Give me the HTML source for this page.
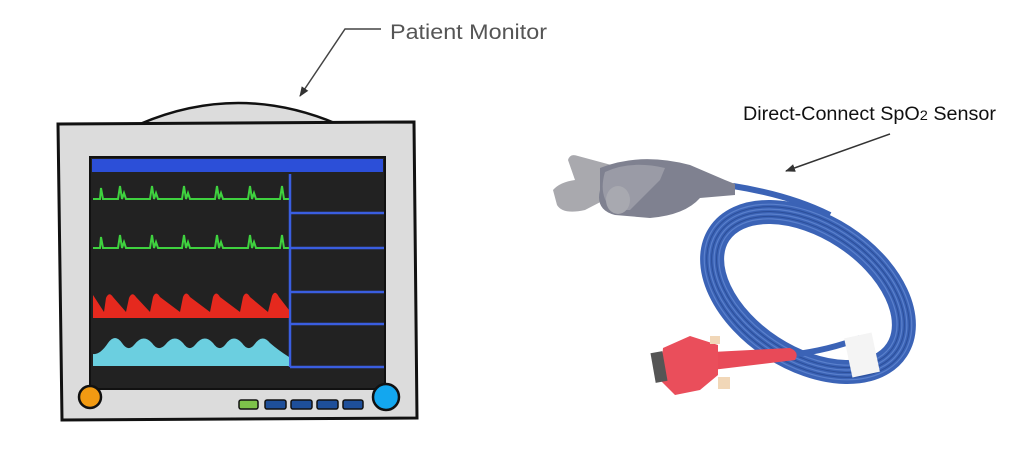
<!DOCTYPE html>
<html><head><meta charset="utf-8"><style>
html,body{margin:0;padding:0;background:#fff;width:1024px;height:474px;overflow:hidden}
text{font-family:"Liberation Sans",Arial,sans-serif}
</style></head><body>
<svg width="1024" height="474" viewBox="0 0 1024 474" xmlns="http://www.w3.org/2000/svg">
<defs>
<marker id="ah" markerWidth="10" markerHeight="8" refX="9" refY="4" orient="auto" markerUnits="userSpaceOnUse"><path d="M0,0 L10,4 L0,8 z" fill="#333"/></marker>
</defs>
<text x="390" y="39" font-size="21" fill="#555" textLength="157" lengthAdjust="spacingAndGlyphs">Patient Monitor</text>
<polyline points="381,29 345,29 300,96" fill="none" stroke="#444" stroke-width="1.5" marker-end="url(#ah)"/>
<path d="M140,124 Q238,82 337,124 Z" fill="#dcdcdc" stroke="#111" stroke-width="2.5"/>
<path d="M58,124 L414,122 L417,418 L62,420 Z" fill="#dcdcdc" stroke="#111" stroke-width="3"/>
<rect x="90" y="157" width="295" height="232" fill="#222" stroke="#111" stroke-width="2"/>
<rect x="92" y="159" width="291" height="13" fill="#2c4fd8"/>
<g stroke="#3a5ee0" stroke-width="2.5" fill="none">
<line x1="290" y1="174" x2="290" y2="367"/>
<line x1="290" y1="213" x2="384" y2="213"/>
<line x1="290" y1="248" x2="384" y2="248"/>
<line x1="290" y1="292" x2="384" y2="292"/>
<line x1="290" y1="324" x2="384" y2="324"/>
<line x1="290" y1="367" x2="384" y2="367"/>
</g>
<g stroke="#3fd23f" stroke-width="2" fill="none">
<path d="M93,199 L100,199 L101,188 L103,199 L118,199 L120,186 L122,199 L124,193 L126,199 L150,199 L152,186 L154,199 L156,193 L158,199 L182,199 L184,186 L186,199 L188,193 L190,199 L215,199 L217,186 L219,199 L221,193 L223,199 L248,199 L250,186 L252,199 L254,193 L256,199 L280,199 L282,186 L284,199 L289,199"/>
<path d="M93,248 L100,248 L101,237 L103,248 L118,248 L120,235 L122,248 L124,242 L126,248 L150,248 L152,235 L154,248 L156,242 L158,248 L182,248 L184,235 L186,248 L188,242 L190,248 L215,248 L217,235 L219,248 L221,242 L223,248 L248,248 L250,235 L252,248 L254,242 L256,248 L280,248 L282,235 L284,248 L289,248"/>
</g>
<path d="M93,295 L104,312 L106,298 Q109,291 113,297 L126,312 L129,298 Q132,291 136,297 L150,312 L153,297 Q156,290 160,297 L180,312 L183,297 Q186,290 190,297 L210,312 L213,297 Q216,290 220,297 L240,312 L243,297 Q246,290 250,297 L268,312 L272,296 Q275,289 279,297 L289,310 L289,318 L93,318 Z" fill="#e5291e"/>
<path d="M93,354 Q100,355 108,343 Q115,333 122,343 Q128,352 134,345 Q143,333 152,343 Q158,352 165,345 Q174,333 183,343 Q189,352 195,345 Q204,333 213,343 Q219,352 225,345 Q233,333 242,343 Q248,352 254,345 Q262,333 270,343 Q278,350 289,357 L289,366 L93,366 Z" fill="#6bcfe0"/>
<circle cx="90" cy="397" r="11" fill="#f29a12" stroke="#111" stroke-width="2.5"/>
<circle cx="386" cy="397" r="13" fill="#13a7ef" stroke="#111" stroke-width="2.5"/>
<g stroke="#111" stroke-width="1.5">
<rect x="239" y="400" width="19" height="9" rx="2" fill="#7dc24a"/>
<rect x="265" y="400" width="21" height="9" rx="2" fill="#1e4f9a"/>
<rect x="291" y="400" width="21" height="9" rx="2" fill="#1e4f9a"/>
<rect x="317" y="400" width="21" height="9" rx="2" fill="#1e4f9a"/>
<rect x="343" y="400" width="20" height="9" rx="2" fill="#1e4f9a"/>
</g>
<text x="743" y="120" font-size="19" fill="#111" textLength="253" lengthAdjust="spacingAndGlyphs">Direct-Connect SpO<tspan font-size="14">2</tspan> Sensor</text>
<line x1="890" y1="134" x2="786" y2="171" stroke="#333" stroke-width="1.5" marker-end="url(#ah)"/>
<ellipse cx="808" cy="292" rx="106" ry="66" transform="rotate(33 808 292)" fill="none" stroke="#3b63b6" stroke-width="24"/>
<g fill="none" stroke="#5a80cc" stroke-width="1.2">
<ellipse cx="808" cy="292" rx="114" ry="74" transform="rotate(33 808 292)"/>
<ellipse cx="808" cy="292" rx="109" ry="69" transform="rotate(33 808 292)"/>
<ellipse cx="808" cy="292" rx="104" ry="64" transform="rotate(33 808 292)"/>
<ellipse cx="808" cy="292" rx="99" ry="59" transform="rotate(33 808 292)"/>
</g>
<g fill="none" stroke="#2c4f9a" stroke-width="1">
<ellipse cx="808" cy="292" rx="111.5" ry="71.5" transform="rotate(33 808 292)"/>
<ellipse cx="808" cy="292" rx="106.5" ry="66.5" transform="rotate(33 808 292)"/>
<ellipse cx="808" cy="292" rx="101.5" ry="61.5" transform="rotate(33 808 292)"/>
</g>
<path d="M733,186 Q790,195 830,215" fill="none" stroke="#3b63b6" stroke-width="6"/>
<path d="M790,355 Q830,350 860,338" fill="none" stroke="#3b63b6" stroke-width="6"/>
<rect x="848" y="335" width="28" height="40" fill="#f4f4f4" transform="rotate(-12 862 355)"/>
<path d="M568,160 Q570,153 578,156 L615,166 L612,196 L585,210 Q563,215 557,205 L553,190 Q560,182 575,180 Z" fill="#a9a9ae"/>
<path d="M600,168 Q640,152 690,165 L725,180 L735,184 L735,195 L700,198 Q685,215 650,218 L615,215 Q595,210 600,190 Z" fill="#7f8190"/>
<path d="M605,172 Q630,160 665,168 L660,180 Q640,200 630,210 L612,210 Q598,195 605,172 Z" fill="#9a9ba6"/>
<ellipse cx="618" cy="200" rx="12" ry="14" fill="#a8a9b0"/>
<path d="M712,352 L790,348 Q800,352 795,360 L712,370 Z" fill="#e84a58"/>
<path d="M663,348 L690,336 L718,345 L718,375 L700,390 L675,395 L660,380 Z" fill="#ea4e5b"/>
<rect x="653" y="352" width="12" height="30" fill="#555" transform="rotate(-10 659 367)"/>
<rect x="710" y="336" width="10" height="8" fill="#f1d7b8"/>
<rect x="718" y="377" width="12" height="12" fill="#f1d7b8"/>
</svg>
</body></html>
